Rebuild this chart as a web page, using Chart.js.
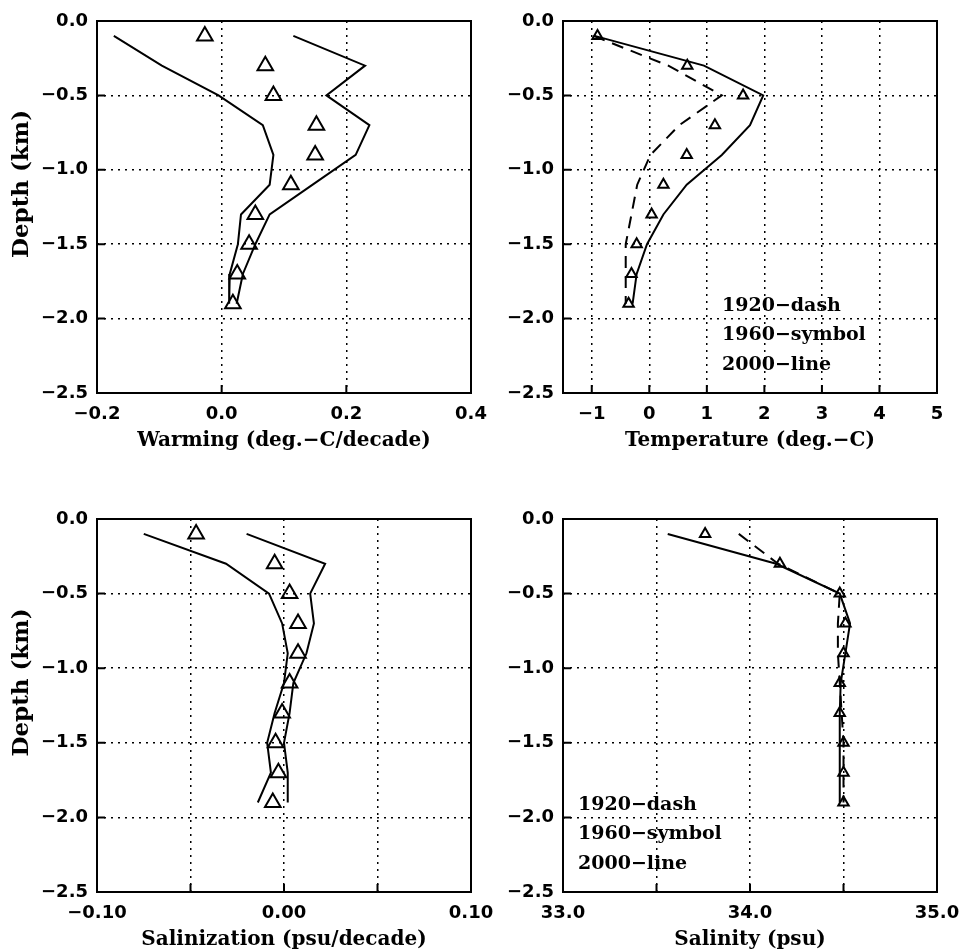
<!DOCTYPE html>
<html>
<head>
<meta charset="utf-8">
<script src="https://cdn.jsdelivr.net/npm/chart.js@4.4.1/dist/chart.umd.min.js"></script>
<style>
  body { margin: 0; background: #fff; }
  #wrap { position: relative; width: 961px; height: 952px; }
  #wrap canvas { position: absolute; left: 0; top: 0; }
</style>
</head>
<body>
<div id="wrap">
  <canvas id="warming" width="961" height="952"></canvas>
  <canvas id="temperature" width="961" height="952"></canvas>
  <canvas id="salinization" width="961" height="952"></canvas>
  <canvas id="salinity" width="961" height="952"></canvas>
</div>
<script>
// depth levels (km) shared by every profile
const depths = [-0.1, -0.3, -0.5, -0.7, -0.9, -1.1, -1.3, -1.5, -1.7, -1.9];
const depthTicks = [0, -0.5, -1.0, -1.5, -2.0, -2.5];

// warming trend (deg C / decade): two bounding lines and the 1960 symbols
const warmLeft  = [-0.173, -0.096, -0.005, 0.066, 0.083, 0.077, 0.031, 0.026, 0.013, 0.012];
const warmRight = [0.115, 0.230, 0.168, 0.237, 0.215, 0.146, 0.077, 0.054, 0.034, 0.024];
const warm1960  = [-0.027, 0.070, 0.083, 0.152, 0.150, 0.111, 0.054, 0.044, 0.025, 0.018];
const warmTicks = [-0.2, 0.0, 0.2, 0.4];
const warmLabels = ['−0.2', '0.0', '0.2', '0.4'];

// temperature (deg C)
const temp1920 = [-0.97, 0.33, 1.26, 0.52, 0.02, -0.21, -0.31, -0.41, -0.41, -0.41];
const temp1960 = [-0.90, 0.66, 1.63, 1.14, 0.65, 0.245, 0.04, -0.22, -0.31, -0.36];
const temp2000 = [-0.95, 0.95, 1.98, 1.75, 1.26, 0.65, 0.245, -0.04, -0.22, -0.29];
const tempTicks = [-1, 0, 1, 2, 3, 4, 5];
const tempLabels = ['−1', '0', '1', '2', '3', '4', '5'];

// salinization trend (psu / decade)
const saltLeft  = [-0.075, -0.031, -0.008, -0.001, 0.002, 0.000, -0.005, -0.009, -0.007, -0.014];
const saltRight = [-0.020, 0.022, 0.014, 0.016, 0.012, 0.005, 0.003, 0.000, 0.002, 0.002];
const salt1960  = [-0.047, -0.005, 0.003, 0.0075, 0.0075, 0.003, -0.001, -0.0045, -0.003, -0.006];
const saltTicks = [-0.10, -0.05, 0.00, 0.05, 0.10];
const saltLabels = ['−0.10', '', '0.00', '', '0.10'];

// salinity (psu)
const sal1920 = [33.94, 34.15, 34.48, 34.47, 34.47, 34.48, 34.49, 34.50, 34.50, 34.50];
const sal1960 = [33.76, 34.16, 34.48, 34.51, 34.50, 34.48, 34.48, 34.50, 34.50, 34.50];
const sal2000 = [33.56, 34.14, 34.48, 34.535, 34.51, 34.485, 34.48, 34.48, 34.48, 34.48];
const salTicks = [33.0, 33.5, 34.0, 34.5, 35.0];
const salLabels = ['33.0', '', '34.0', '', '35.0'];

const noteLines = ['1920−dash', '1960−symbol', '2000−line'];

const W = 961, H = 952;
const tickFont = { family: 'DejaVu Sans', size: 18, weight: 'bold' };
const titleFont = { family: 'DejaVu Serif', size: 20, weight: 'bold' };

Chart.defaults.color = '#000';
Chart.defaults.font.family = 'DejaVu Sans';

const pts = xs => xs.map((x, i) => ({ x: x, y: depths[i] }));

function line(xs, dash) {
  return {
    data: pts(xs), showLine: true, tension: 0,
    borderColor: '#000', borderWidth: 2, borderDash: dash || [],
    pointRadius: 0, fill: false
  };
}

function marks(xs, r) {
  return {
    data: pts(xs), showLine: false,
    pointStyle: 'triangle', pointRadius: r,
    pointBorderColor: '#000', pointBorderWidth: 2,
    pointBackgroundColor: 'rgba(0,0,0,0)'
  };
}

// box around the plot, short inward ticks, depth title and the period note
const framePlugin = {
  id: 'frame',
  afterDraw(chart, args, opts) {
    const { ctx, chartArea: a, scales } = chart;
    ctx.save();
    ctx.strokeStyle = '#000';
    ctx.lineWidth = 2;
    ctx.strokeRect(a.left, a.top, a.right - a.left, a.bottom - a.top);
    ctx.beginPath();
    scales.x.ticks.forEach(t => {
      const px = scales.x.getPixelForValue(t.value);
      ctx.moveTo(px, a.bottom);
      ctx.lineTo(px, a.bottom - 8);
    });
    scales.y.ticks.forEach(t => {
      const py = scales.y.getPixelForValue(t.value);
      ctx.moveTo(a.left, py);
      ctx.lineTo(a.left + 8, py);
    });
    ctx.stroke();
    ctx.fillStyle = '#000';
    if (opts.yTitle) {
      ctx.save();
      ctx.translate(a.left - 75, (a.top + a.bottom) / 2 - 23);
      ctx.rotate(-Math.PI / 2);
      ctx.font = 'bold 23px "DejaVu Serif"';
      ctx.textAlign = 'center';
      ctx.textBaseline = 'middle';
      ctx.fillText(opts.yTitle, 0, 0);
      ctx.restore();
    }
    if (opts.note) {
      ctx.font = 'bold 19px "DejaVu Serif"';
      ctx.textBaseline = 'middle';
      opts.note.lines.forEach((s, i) => {
        ctx.fillText(s, a.left + opts.note.dx, a.top + opts.note.dy + i * 29.5);
      });
    }
    ctx.restore();
  }
};

function panel(id, p) {
  const yw = p.yTitle ? 97 : 73;
  new Chart(document.getElementById(id), {
    type: 'scatter',
    data: { datasets: p.datasets },
    plugins: [framePlugin],
    options: {
      responsive: false,
      animation: false,
      events: [],
      layout: {
        padding: { left: p.box.left - yw, top: p.box.top, right: W - p.box.right, bottom: H - p.box.bottom - 60 }
      },
      plugins: {
        legend: { display: false },
        tooltip: { enabled: false },
        frame: { note: p.note || null, yTitle: p.yTitle || null }
      },
      scales: {
        x: {
          type: 'linear', min: p.xMin, max: p.xMax,
          afterBuildTicks: s => { s.ticks = p.xTicks.map(v => ({ value: v })); },
          afterFit: s => { s.height = 60; s.paddingLeft = 0; s.paddingRight = 0; },
          ticks: { font: tickFont, padding: 11, maxRotation: 0, autoSkip: false,
                   callback: (v, i) => p.xLabels[i] },
          grid: { color: '#000', lineWidth: 1.5, drawTicks: false },
          border: { display: false, dash: [2, 5] },
          title: { display: true, text: p.xTitle, font: titleFont, padding: { top: 0, bottom: 0 } }
        },
        y: {
          type: 'linear', min: -2.5, max: 0,
          afterBuildTicks: s => { s.ticks = depthTicks.map(v => ({ value: v })); },
          afterFit: s => { s.width = yw; s.paddingTop = 0; s.paddingBottom = 0; },
          ticks: { font: tickFont, padding: 9, autoSkip: false,
                   callback: v => v.toFixed(1).replace('-', '−') },
          grid: { color: '#000', lineWidth: 1.5, drawTicks: false },
          border: { display: false, dash: [2, 5] }
        }
      }
    }
  });
}

panel('warming', {
  box: { left: 97, top: 21, right: 471, bottom: 393 },
  xMin: -0.2, xMax: 0.4, xTicks: warmTicks, xLabels: warmLabels,
  xTitle: 'Warming (deg.−C/decade)', yTitle: 'Depth (km)',
  datasets: [line(warmLeft), line(warmRight), marks(warm1960, 9)]
});

panel('temperature', {
  box: { left: 563, top: 21, right: 937, bottom: 393 },
  xMin: -1.5, xMax: 5, xTicks: tempTicks, xLabels: tempLabels,
  xTitle: 'Temperature (deg.−C)',
  note: { dx: 159, dy: 285, lines: noteLines },
  datasets: [line(temp1920, [12, 8]), line(temp2000), marks(temp1960, 6)]
});

panel('salinization', {
  box: { left: 97, top: 519, right: 471, bottom: 892 },
  xMin: -0.10, xMax: 0.10, xTicks: saltTicks, xLabels: saltLabels,
  xTitle: 'Salinization (psu/decade)', yTitle: 'Depth (km)',
  datasets: [line(saltLeft), line(saltRight), marks(salt1960, 9)]
});

panel('salinity', {
  box: { left: 563, top: 519, right: 937, bottom: 892 },
  xMin: 33.0, xMax: 35.0, xTicks: salTicks, xLabels: salLabels,
  xTitle: 'Salinity (psu)',
  note: { dx: 15, dy: 286, lines: noteLines },
  datasets: [line(sal1920, [12, 8]), line(sal2000), marks(sal1960, 6)]
});
</script>
</body>
</html>
